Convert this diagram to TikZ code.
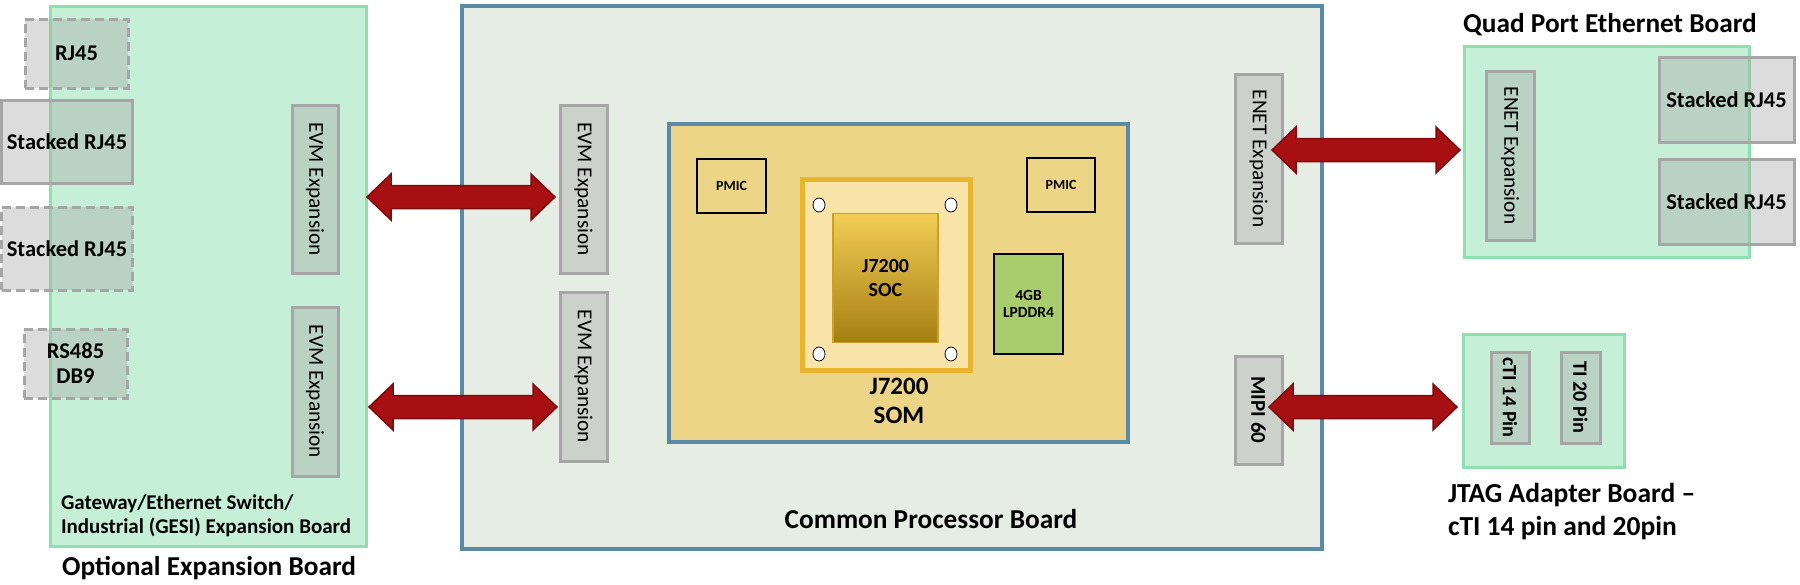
\documentclass[tikz,border=0pt]{standalone}
\usepackage{fontspec}
\setmainfont{Carlito}
\usetikzlibrary{calc,shapes.geometric}
\definecolor{mint}{HTML}{C6EFD7}
\definecolor{mintborder}{HTML}{8FDFB0}
\definecolor{cpbfill}{HTML}{E5EDE5}
\definecolor{steel}{HTML}{5A8AA6}
\definecolor{somfill}{HTML}{EDD588}
\definecolor{conngray}{HTML}{A6A6A6}
\definecolor{connfill}{HTML}{A8A8A8}
\definecolor{arrowred}{HTML}{A80F12}
\definecolor{arrowdark}{HTML}{7E0B0B}
\definecolor{socframe}{HTML}{E9B52E}
\definecolor{socfill}{HTML}{F8E4A8}
\definecolor{chiptop}{HTML}{F2CD55}
\definecolor{chipbot}{HTML}{A57E12}
\definecolor{chipborder}{HTML}{C9A02A}
\definecolor{ddrfill}{HTML}{A9CD6D}
\newcommand{\bigdarrow}[2]{%
  \path[bigarrow] let \p1=(#1), \p2=(#2) in
    (\x1,\y1) -- (\x1+24pt,\y1+23pt) -- (\x1+24pt,\y1+11.5pt) -- (\x2-24pt,\y1+11.5pt)
    -- (\x2-24pt,\y1+23pt) -- (\x2,\y1) -- (\x2-24pt,\y1-23pt) -- (\x2-24pt,\y1-11.5pt)
    -- (\x1+24pt,\y1-11.5pt) -- (\x1+24pt,\y1-23pt) -- cycle;}
\tikzset{
  every node/.style={inner sep=0pt, outer sep=0pt},
  board/.style={draw=mintborder, line width=3pt, fill=mint},
  cpb/.style={draw=steel, line width=3.5pt, fill=cpbfill},
  conn/.style={draw=conngray, line width=3pt, fill=connfill, fill opacity=0.4, text opacity=1,
    font=\bfseries\fontsize{22.5}{26}\selectfont, align=center},
  dconn/.style={conn, dash pattern=on 9pt off 5pt},
  vconn/.style={draw=conngray, line width=3pt, fill=connfill, fill opacity=0.4, text opacity=1},
  vlabel/.style={rotate=-90, font=\fontsize{21.3}{26}\selectfont},
  vblabel/.style={rotate=-90, font=\bfseries\fontsize{21}{26}\selectfont},
  chip/.style={draw=black, line width=2pt},
  title/.style={font=\bfseries\fontsize{27.3}{32}\selectfont},
  bigarrow/.style={fill=arrowred, draw=arrowdark, line width=1.5pt, line join=miter},
  hole/.style={draw=black, line width=0.8pt, fill=white, ellipse, minimum width=12pt, minimum height=14pt},
}
\begin{document}
\begin{tikzpicture}[x=1pt, y=-1pt]
\useasboundingbox (0,0) rectangle (1800,584);

% ---------- Optional expansion board (GESI) ----------
\node[board, minimum width=316pt, minimum height=540pt] (gesi) at (208,276) {};
\node[dconn, minimum width=103pt, minimum height=69pt] (rj45) at (76.5,53.5) {RJ45};
\node[conn, minimum width=131pt, minimum height=83pt] (srj1) at (67,141.5) {Stacked RJ45};
\node[dconn, minimum width=131pt, minimum height=83pt] (srj2) at (67,248.5) {Stacked RJ45};
\node[dconn, minimum width=103pt, minimum height=69pt] (rs485) at (75.5,363.5) {RS485\\[-1pt]DB9};
\node[vconn, minimum width=46pt, minimum height=168pt] (gevm1) at (315,189) {};
\node[vlabel] (gevm1t) at (gevm1.center) {EVM Expansion};
\node[vconn, minimum width=46pt, minimum height=169pt] (gevm2) at (315,391.5) {};
\node[vlabel] (gevm2t) at (gevm2.center) {EVM Expansion};
\node[font=\bfseries\fontsize{21}{24}\selectfont, align=left, anchor=west] (gesit) at (61,516)
  {Gateway/Ethernet Switch/\\Industrial (GESI) Expansion Board};
\node[title] (opt) at (209,568) {Optional Expansion Board};

% ---------- Common processor board ----------
\node[cpb, minimum width=860pt, minimum height=543pt] (cpb) at (892,277.5) {};
\node[vconn, minimum width=47pt, minimum height=168pt] (evma) at (583.5,189) {};
\node[vlabel] (evmat) at (evma.center) {EVM Expansion};
\node[vconn, minimum width=47pt, minimum height=169pt] (evmb) at (583.5,376.5) {};
\node[vlabel] (evmbt) at (evmb.center) {EVM Expansion};
\node[vconn, minimum width=47pt, minimum height=169pt] (enet) at (1258.5,158.5) {};
\node[vlabel] (enett) at (enet.center) {ENET Expansion};
\node[vconn, minimum width=47pt, minimum height=108pt] (mipi) at (1258.5,410) {};
\node[vblabel] (mipit) at (mipi.center) {MIPI 60};
\node[title] (cpbt) at (931,519) {Common Processor Board};

% SOM
\node[draw=steel, line width=3.5pt, fill=somfill, minimum width=459pt, minimum height=318pt] (som) at (898.5,283) {};
\node[chip, minimum width=69pt, minimum height=54pt, font=\bfseries\fontsize{14}{16}\selectfont] (pmic1) at (731.5,186) {PMIC};
\node[chip, minimum width=68pt, minimum height=54pt, font=\bfseries\fontsize{14}{16}\selectfont] (pmic2) at (1061,185) {PMIC};
\node[draw=socframe, line width=5pt, fill=socfill, minimum width=168pt, minimum height=191pt] (socframe) at (886,274.5) {};
\node[draw=chipborder, line width=1.5pt, top color=chiptop, bottom color=chipbot, minimum width=105pt, minimum height=129pt,
  font=\bfseries\fontsize{20}{24}\selectfont, align=center] (soc) at (885.5,278) {J7200\\SOC};
\node[hole] (h1) at (819,205) {};
\node[hole] (h2) at (951,205) {};
\node[hole] (h3) at (819,354) {};
\node[hole] (h4) at (951,354) {};
\node[chip, fill=ddrfill, minimum width=69pt, minimum height=100pt, font=\bfseries\fontsize{15.5}{17}\selectfont, align=center] (ddr) at (1028.5,304) {4GB\\LPDDR4};
\node[font=\bfseries\fontsize{25}{29}\selectfont, align=center] (somt) at (899,401) {J7200\\SOM};

% ---------- Quad port Ethernet board ----------
\node[title] (quadt) at (1610,25) {Quad Port Ethernet Board};
\node[board, minimum width=285pt, minimum height=211pt] (quad) at (1606.5,151.5) {};
\node[vconn, minimum width=48pt, minimum height=169pt] (qenet) at (1510,155.5) {};
\node[vlabel] (qenett) at (qenet.center) {ENET Expansion};
\node[conn, minimum width=135pt, minimum height=85pt] (qrj1) at (1726.5,99.5) {Stacked RJ45};
\node[conn, minimum width=135pt, minimum height=85pt] (qrj2) at (1726.5,201.5) {Stacked RJ45};

% ---------- JTAG adapter board ----------
\node[board, minimum width=161pt, minimum height=133pt] (jtag) at (1543.5,400.5) {};
\node[vconn, minimum width=38pt, minimum height=91pt] (cti) at (1510,397.5) {};
\node[vblabel, font=\bfseries\fontsize{20.3}{24}\selectfont] (ctit) at (cti.center) {cTI 14 Pin};
\node[vconn, minimum width=39pt, minimum height=91pt] (ti20) at (1580.5,397.5) {};
\node[vblabel, font=\bfseries\fontsize{20.3}{24}\selectfont] (ti20t) at (ti20.center) {TI 20 Pin};
\node[font=\bfseries\fontsize{27.5}{33}\selectfont, align=left, anchor=west] (jtagt) at (1448,512)
  {JTAG Adapter Board –\\cTI 14 pin and 20pin};

% ---------- Arrows ----------
\coordinate (a1l) at (367,197);  \coordinate (a1r) at (555,197);
\coordinate (a2l) at (369,407);  \coordinate (a2r) at (557,407);
\coordinate (a3l) at (1272,150); \coordinate (a3r) at (1460,150);
\coordinate (a4l) at (1269,407); \coordinate (a4r) at (1457,407);
\bigdarrow{a1l}{a1r}
\bigdarrow{a2l}{a2r}
\bigdarrow{a3l}{a3r}
\bigdarrow{a4l}{a4r}
\end{tikzpicture}
\end{document}
